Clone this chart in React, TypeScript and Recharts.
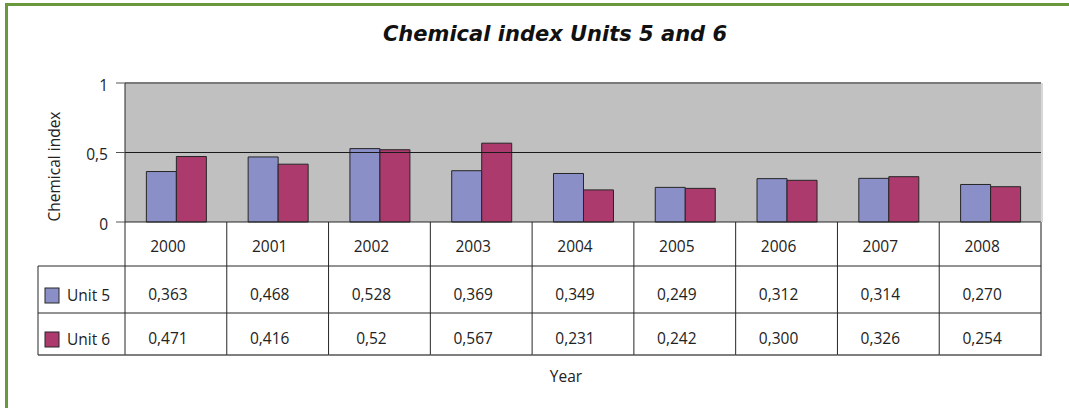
import React from "react";
import { BarChart, Bar, XAxis, YAxis, CartesianGrid, ReferenceLine } from "recharts";

const years = ["2000", "2001", "2002", "2003", "2004", "2005", "2006", "2007", "2008"];
const unit5 = [0.363, 0.468, 0.528, 0.369, 0.349, 0.249, 0.312, 0.314, 0.27];
const unit6 = [0.471, 0.416, 0.52, 0.567, 0.231, 0.242, 0.3, 0.326, 0.254];
const unit5Labels = ["0,363", "0,468", "0,528", "0,369", "0,349", "0,249", "0,312", "0,314", "0,270"];
const unit6Labels = ["0,471", "0,416", "0,52", "0,567", "0,231", "0,242", "0,300", "0,326", "0,254"];
const yTicks = [0, 0.5, 1];

const BLUE = "#8b8fc7";
const MAGENTA = "#ad3a6d";
const FONT = "'Open Sans', sans-serif";
const LINE = "#262626";

const data = years.map((year, i) => ({
  year,
  unit5: unit5[i],
  unit6: unit6[i],
  l5: unit5Labels[i],
  l6: unit6Labels[i],
}));

// each x tick draws one column of the data table under the plot
const TableTick = (props: any) => {
  const { x, y, payload } = props;
  const idx = years.indexOf(payload.value);
  const row = data[idx];
  const half = payload.offset || 50.9;
  const left = x - half;
  const right = x + half;
  const last = idx === years.length - 1;
  const txt = { fontFamily: FONT, fontSize: 15.5, fill: "#222", textAnchor: "middle" as const };
  return (
    <g>
      <line x1={left} y1={y} x2={left} y2={y + 133} stroke={LINE} />
      {last && <line x1={right} y1={y} x2={right} y2={y + 134} stroke="#8a8a8a" strokeWidth={2} />}
      {last && <line x1={right + 1} y1={y - 139} x2={right + 1} y2={y} stroke="#d8d8d8" strokeWidth={2} />}
      <line x1={left} y1={y + 44} x2={right} y2={y + 44} stroke={LINE} />
      <line x1={left} y1={y + 91} x2={right} y2={y + 91} stroke={LINE} />
      <line x1={left} y1={y + 133} x2={right} y2={y + 133} stroke="#555" strokeWidth={1.5} />
      <text x={x - 8} y={y + 30} {...txt}>{payload.value}</text>
      <text x={x - 8} y={y + 78} {...txt}>{row.l5}</text>
      <text x={x - 8} y={y + 122} {...txt}>{row.l6}</text>
      {idx === 0 && (
        <g>
          <line x1={38} y1={y + 44} x2={left} y2={y + 44} stroke={LINE} />
          <line x1={38} y1={y + 91} x2={left} y2={y + 91} stroke={LINE} />
          <line x1={38} y1={y + 133} x2={left} y2={y + 133} stroke="#555" strokeWidth={1.5} />
          <line x1={38} y1={y + 44} x2={38} y2={y + 133} stroke={LINE} />
          <rect x={45} y={y + 66} width={14} height={15} fill={BLUE} stroke={LINE} />
          <rect x={45} y={y + 110} width={14} height={15} fill={MAGENTA} stroke={LINE} />
          <text x={67} y={y + 79} fontFamily={FONT} fontSize={15.5} fill="#222">Unit 5</text>
          <text x={67} y={y + 123} fontFamily={FONT} fontSize={15.5} fill="#222">Unit 6</text>
        </g>
      )}
    </g>
  );
};

export default function App() {
  return (
    <div style={{ position: "absolute", left: 0, top: 0, width: 1069, height: 408, background: "#fff" }}>
      <div
        style={{
          position: "absolute",
          left: 5,
          top: 3,
          right: 0,
          bottom: 0,
          borderTop: "3px solid #6a983c",
          borderLeft: "3px solid #6a983c",
        }}
      />
      <div
        style={{
          position: "absolute",
          left: 0,
          top: 22,
          width: 1110,
          textAlign: "center",
          fontFamily: "'DejaVu Sans', sans-serif",
          fontWeight: 700,
          fontStyle: "italic",
          fontSize: 21,
          color: "#111",
        }}
      >
        Chemical index Units 5 and 6
      </div>
      <div style={{ position: "absolute", left: 0, top: 0 }}>
        <BarChart
          width={1069}
          height={408}
          data={data}
          margin={{ top: 83, right: 28, left: 0, bottom: 0 }}
          barCategoryGap="21%"
          barGap={0}
        >
          <CartesianGrid fill="#c0c0c0" horizontal={false} vertical={false} />
          <ReferenceLine y={0.5} stroke="#1a1a1a" strokeWidth={1.2} />
          <ReferenceLine y={1} stroke="#7a7a7a" strokeWidth={2} />
          <XAxis
            dataKey="year"
            height={186}
            interval={0}
            tickLine={false}
            tickSize={0}
            tickMargin={0}
            axisLine={{ stroke: LINE }}
            tick={<TableTick />}
            label={{
              content: (p: any) => {
                const vb = p.viewBox;
                return (
                  <text
                    x={vb.x + vb.width / 2 - 17}
                    y={vb.y + 160}
                    textAnchor="middle"
                    fontFamily={FONT}
                    fontSize={15.5}
                    fill="#222"
                  >
                    Year
                  </text>
                );
              },
            }}
          />
          <YAxis
            width={125}
            domain={[0, 1]}
            ticks={yTicks}
            interval={0}
            tickSize={9}
            tickMargin={8}
            axisLine={{ stroke: LINE }}
            tickLine={{ stroke: "#555" }}
            tick={{ fontFamily: FONT, fontSize: 15.5, fill: "#222", dy: 2 }}
            tickFormatter={(v: number) => String(v).replace(".", ",")}
            label={{
              content: (p: any) => {
                const vb = p.viewBox;
                const cx = vb.x + 54;
                const cy = vb.y + vb.height / 2 + 14;
                return (
                  <text
                    x={cx}
                    y={cy}
                    transform={`rotate(-90 ${cx} ${cy})`}
                    textAnchor="middle"
                    dominantBaseline="central"
                    fontFamily={FONT}
                    fontSize={15.5}
                    fill="#222"
                  >
                    Chemical index
                  </text>
                );
              },
            }}
          />
          <Bar dataKey="unit5" name="Unit 5" fill={BLUE} stroke={LINE} strokeWidth={1} isAnimationActive={false} />
          <Bar dataKey="unit6" name="Unit 6" fill={MAGENTA} stroke={LINE} strokeWidth={1} isAnimationActive={false} />
        </BarChart>
      </div>
    </div>
  );
}
